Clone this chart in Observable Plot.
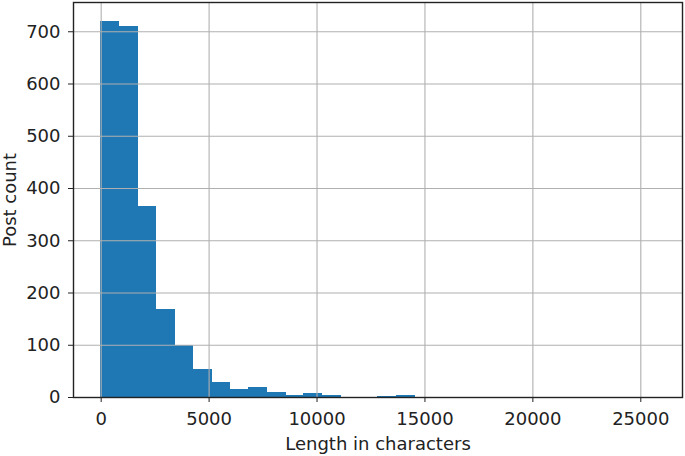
<!DOCTYPE html>
<html>
<head>
<meta charset="utf-8">
<script src="https://cdn.jsdelivr.net/npm/d3@7"></script>
<script src="https://cdn.jsdelivr.net/npm/@observablehq/plot@0.6"></script>
<style>
  html, body { margin: 0; padding: 0; background: #fff; }
  #chart svg { display: block; }
</style>
</head>
<body>
<div id="chart"></div>
<script>
// Histogram: 30 bins from 0 to ~25650 characters
const binStart = 0;
const binWidth = 855;
const counts = [720, 711, 365, 168, 99, 54, 28, 15, 19, 9, 4, 8, 3, 0, 0, 1, 3, 0, 0, 0, 0, 0, 0, 0, 0, 0, 0, 0, 0, 0];
const xTicks = [0, 5000, 10000, 15000, 20000, 25000];
const yTicks = [0, 100, 200, 300, 400, 500, 600, 700];
const xLabel = "Length in characters";
const yLabel = "Post count";

const bins = counts.map((c, i) => ({
  x1: binStart + i * binWidth,
  x2: binStart + (i + 1) * binWidth,
  count: c
}));

const fmt = d => String(d);

const chart = Plot.plot({
  width: 685,
  height: 456,
  marginLeft: 73,
  marginRight: 3,
  marginTop: 2,
  marginBottom: 59,
  style: { fontFamily: "DejaVu Sans", fontSize: "18px", color: "#222", background: "white" },
  x: { domain: [-1282, 26932], ticks: xTicks },
  y: { domain: [0, 756], ticks: yTicks },
  marks: [
    Plot.rectY(bins.filter(d => d.count > 0), { x1: "x1", x2: "x2", y: "count", fill: "#1f77b4", insetLeft: -0.3, insetRight: -0.3, shapeRendering: "crispEdges" }),
    Plot.gridX(xTicks, { stroke: "#b0b0b0", strokeOpacity: 1, strokeWidth: 1.1 }),
    Plot.gridY(yTicks, { stroke: "#b0b0b0", strokeOpacity: 1, strokeWidth: 1.1 }),
    Plot.axisX(xTicks, { tickSize: 5, tickPadding: 10, fontSize: 18, tickFormat: fmt, label: xLabel, labelAnchor: "center", labelArrow: "none", labelOffset: 52, stroke: "#222" }),
    Plot.axisY(yTicks, { tickSize: 5, tickPadding: 8, fontSize: 18, tickFormat: fmt, label: yLabel, labelAnchor: "center", labelArrow: "none", labelOffset: 70, stroke: "#222" }),
    Plot.frame({ stroke: "#222", strokeWidth: 1.4 })
  ]
});
document.getElementById("chart").appendChild(chart);
</script>
</body>
</html>
